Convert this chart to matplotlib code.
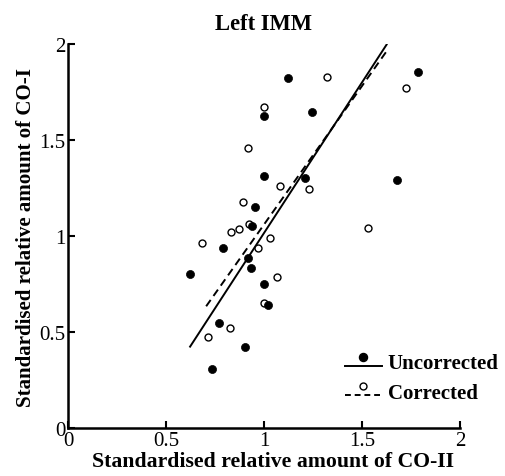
import numpy as np
import matplotlib.pyplot as plt
from matplotlib.legend_handler import HandlerLine2DCompound
from matplotlib.lines import Line2D

# --- dados ---
unc_x = [1.00, 1.00, 0.954, 0.937, 0.793, 0.917, 0.935, 0.625, 1.00, 1.02,
         0.769, 0.901, 0.735, 1.125, 1.784, 1.247, 1.209, 1.680]
unc_y = [1.627, 1.315, 1.150, 1.055, 0.939, 0.887, 0.834, 0.803, 0.751, 0.643,
         0.547, 0.423, 0.309, 1.822, 1.853, 1.647, 1.305, 1.293]

cor_x = [1.00, 0.920, 0.891, 0.925, 1.080, 0.874, 0.832, 0.684, 1.029, 0.971,
         1.064, 1.00, 0.825, 0.715, 1.321, 1.725, 1.229, 1.533]
cor_y = [1.671, 1.458, 1.177, 1.064, 1.262, 1.037, 1.020, 0.963, 0.991, 0.939,
         0.786, 0.651, 0.524, 0.475, 1.830, 1.773, 1.244, 1.041]

# retas de regressão (extremos)
fit_unc_x = [0.623, 1.626]
fit_unc_y = [0.425, 1.997]
fit_cor_x = [0.705, 1.634]
fit_cor_y = [0.635, 1.974]

ticks = [0, 0.5, 1, 1.5, 2]
tick_labels = ['0', '0.5', '1', '1.5', '2']

plt.rcParams['font.family'] = ['Liberation Serif', 'DejaVu Serif']


class HandlerRaised(HandlerLine2DCompound):
    """Marcador desenhado acima da linha na legenda."""
    def create_artists(self, legend, orig_handle, xdescent, ydescent,
                       width, height, fontsize, trans):
        arts = super().create_artists(legend, orig_handle, xdescent, ydescent,
                                      width, height, fontsize, trans)
        line, marker = arts
        line.set_ydata(np.asarray(line.get_ydata()) - 0.35 * height)
        marker.set_ydata(np.asarray(marker.get_ydata()) + 0.3 * height)
        return arts


fig = plt.figure(figsize=(5.05, 4.77), dpi=100)
ax = fig.add_axes([0.1347, 0.1, 0.776, 0.8057])

ax.plot(fit_unc_x, fit_unc_y, color='black', lw=1.4, ls='-')
ax.plot(fit_cor_x, fit_cor_y, color='black', lw=1.4, ls=(0, (4, 2.5)))
ax.plot(cor_x, cor_y, 'o', ms=5.0, mfc='white', mec='black', mew=1.0)
ax.plot(unc_x, unc_y, 'o', ms=5.8, mfc='black', mec='black', mew=0.5)

ax.set_xlim(0, 2)
ax.set_ylim(0, 2)
ax.set_xticks(ticks)
ax.set_xticklabels(tick_labels)
ax.set_yticks(ticks)
ax.set_yticklabels(tick_labels)
ax.tick_params(direction='in', length=5, width=1.5, labelsize=15, pad=2)

for s in ['top', 'right']:
    ax.spines[s].set_visible(False)
for s in ['left', 'bottom']:
    ax.spines[s].set_linewidth(1.8)

ax.set_xlabel('Standardised relative amount of CO-II', fontsize=15.7,
              fontweight='bold')
ax.xaxis.set_label_coords(0.524, -0.06)
ax.set_ylabel('Standardised relative amount of CO-I', fontsize=15.1,
              fontweight='bold', labelpad=2)
ax.set_title('Left IMM', fontsize=16.3, fontweight='bold', pad=11)

h_unc = Line2D([], [], color='black', lw=1.4, ls='-', marker='o', ms=5.8,
               mfc='black', mec='black')
h_cor = Line2D([], [], color='black', lw=1.4, ls=(0, (3, 2)), marker='o',
               ms=5.0, mfc='white', mec='black', mew=1.0)
leg = ax.legend([h_unc, h_cor], ['Uncorrected', 'Corrected'],
                handler_map={Line2D: HandlerRaised(numpoints=1)},
                loc='lower right', bbox_to_anchor=(1.147, 0.018), frameon=False,
                prop={'weight': 'bold', 'size': 15}, handlelength=1.78,
                handletextpad=0.3, labelspacing=0.45)

fig.savefig('out.png', dpi=100)
